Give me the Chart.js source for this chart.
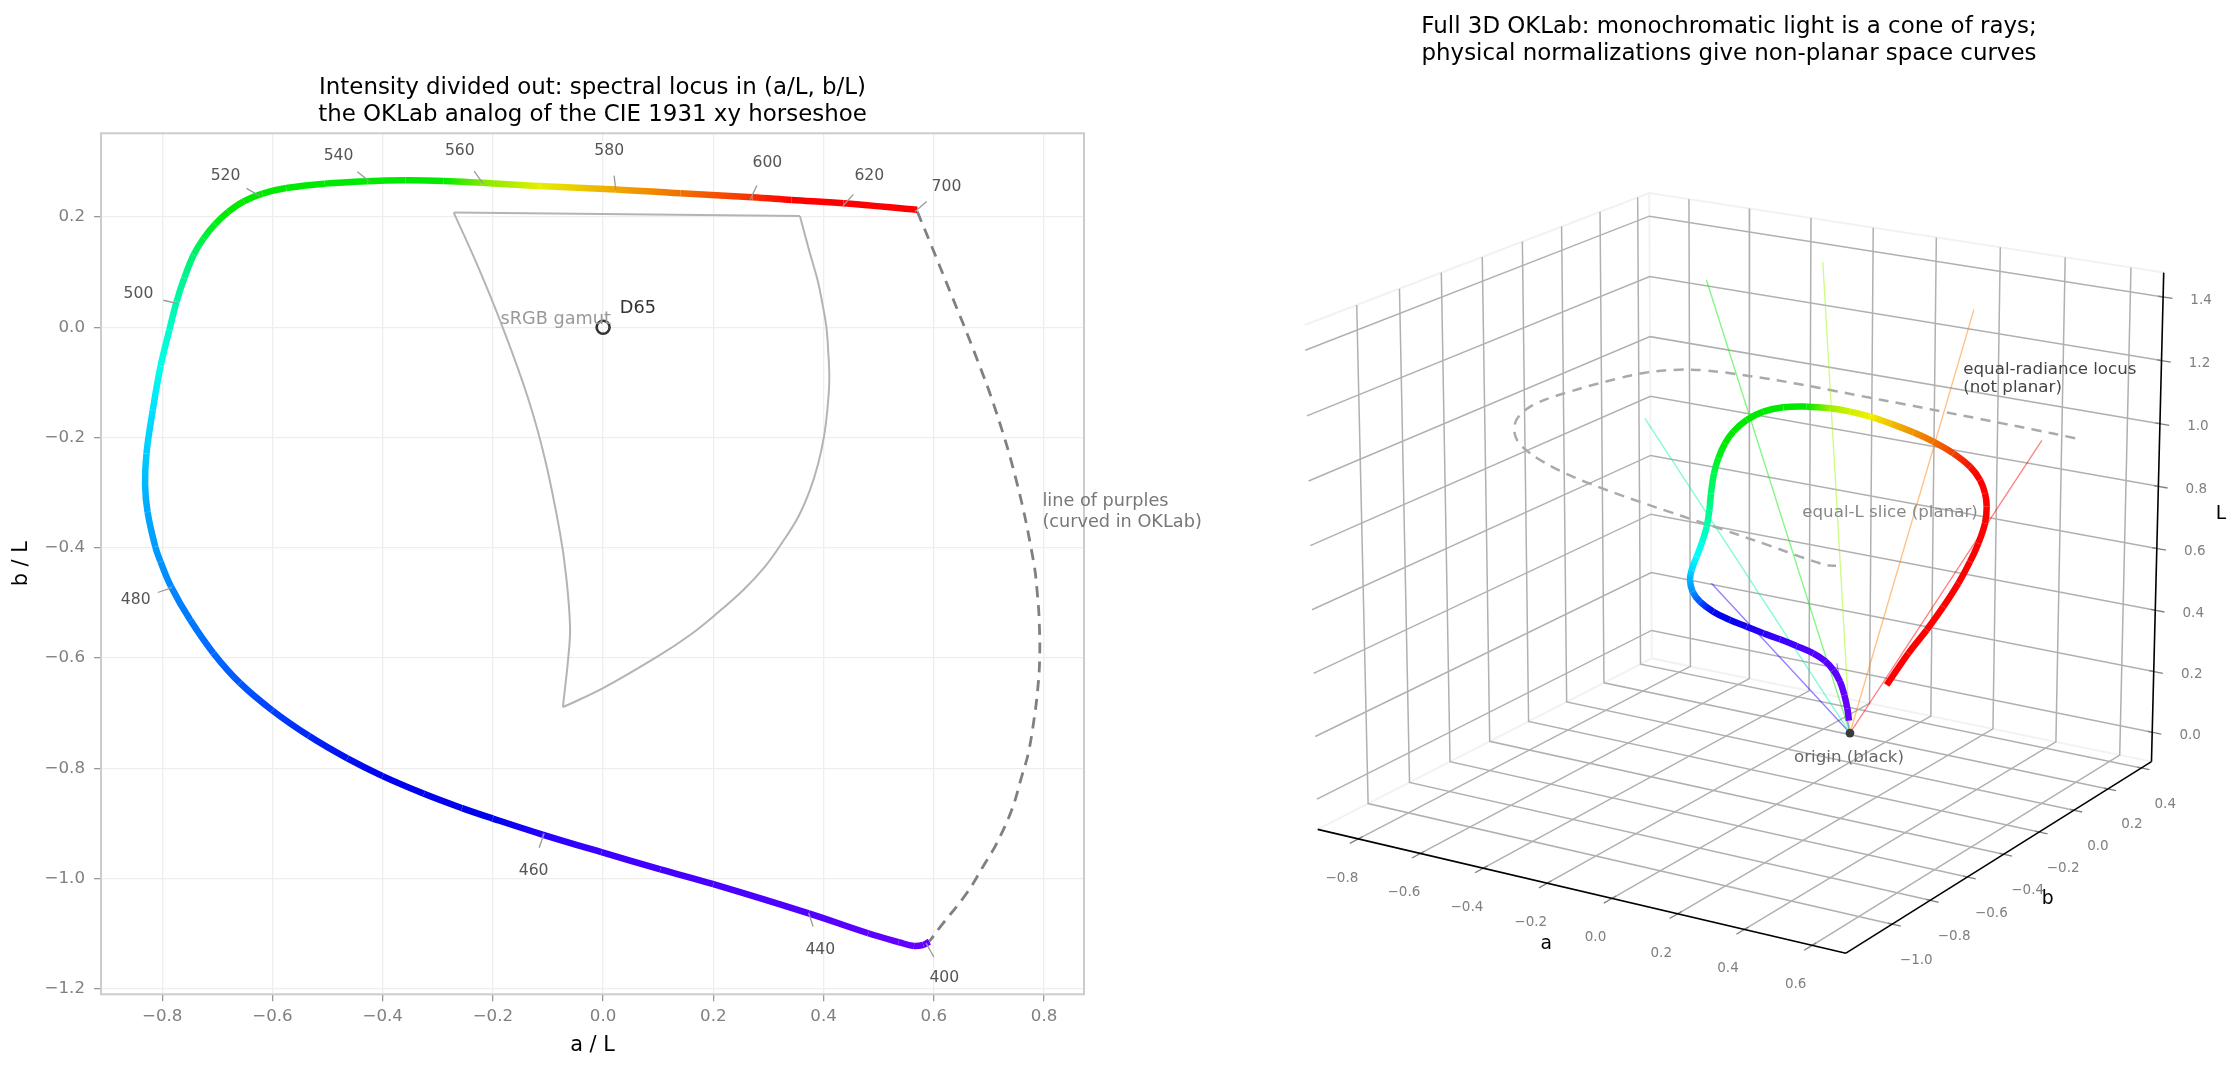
<!DOCTYPE html>
<html>
<head>
<meta charset="utf-8">
<title>OKLab spectral locus</title>
<script src="https://cdn.jsdelivr.net/npm/chart.js@4/dist/chart.umd.min.js"></script>
<style>
  html, body { margin: 0; background: #fff; overflow: hidden; }
  canvas { position: absolute; top: 0; }
  #flat { left: 0; }
  #cone { left: 1223px; }
</style>
</head>
<body>
<canvas id="flat" width="1222" height="1071"></canvas>
<canvas id="cone" width="1012" height="1071"></canvas>
<script>
// Spectral locus in chromaticity form, from 400 nm round to 700 nm
const locusA = [0.592,0.581,0.564,0.536,0.481,0.373,0.2,0.104,-0.003,-0.11,-0.2,-0.256,-0.325,-0.4,-0.464,-0.534,-0.6,-0.659,-0.707,-0.749,-0.784,-0.803,-0.8125,-0.8265,-0.831,-0.8285,-0.817,-0.803,-0.787,-0.774,-0.76,-0.743,-0.725,-0.704,-0.68,-0.652,-0.618,-0.575,-0.505,-0.428,-0.359,-0.289,-0.22,-0.116,0.023,0.14,0.271,0.342,0.436,0.57];
const locusB = [-1.114,-1.12,-1.122,-1.115,-1.099,-1.063,-1.01,-0.983,-0.952,-0.92,-0.891,-0.872,-0.846,-0.814,-0.782,-0.741,-0.695,-0.645,-0.591,-0.531,-0.47,-0.425,-0.398,-0.335,-0.286,-0.229,-0.15,-0.071,-0.005,0.046,0.089,0.131,0.161,0.187,0.2095,0.2285,0.2425,0.2525,0.2605,0.265,0.2665,0.2655,0.262,0.256,0.25,0.243,0.236,0.231,0.225,0.213];
const locusColors = ['#6400ff','#6400ff','#6400ff','#6200ff','#5c00ff','#5000ff','#4800ff','#4200ff','#3c00ff','#2400ff','#0000ee','#0000ee','#0000ee','#0000f0','#0010f0','#0028f5','#0040ff','#0058ff','#0068ff','#0078ff','#0088ff','#0094ff','#009cff','#00a8ff','#00b8ff','#00ccff','#00e0ff','#00ffe8','#00fccc','#00f8a8','#00f590','#00f270','#00f040','#00ee18','#00ea00','#00ea00','#00ea00','#00ea00','#00ea00','#00ea00','#00ea00','#00ea00','#80ea00','#e4ee00','#f0a800','#f07000','#f83000','#ff0000','#ff0000','#ff0000'];

// Line of purples
const purpleA = [0.57,0.594,0.633,0.672,0.712,0.751,0.7805,0.7878,0.7914,0.792,0.7884,0.7817,0.7714,0.7594,0.7413,0.7141,0.6929,0.6596,0.612,0.592];
const purpleB = [0.21,0.152,0.056,-0.041,-0.15,-0.283,-0.422,-0.4824,-0.5368,-0.6034,-0.6578,-0.7122,-0.7726,-0.815,-0.8754,-0.9358,-0.972,-1.0265,-1.087,-1.114];

// sRGB gamut outline and the indices of its three corners
const gamutA = [-0.271,0.357,0.375,0.389,0.398,0.405,0.4085,0.4104,0.4068,0.4008,0.3904,0.3754,0.3542,0.324,0.2937,0.2544,0.203,0.1577,0.099,-0.001,-0.073,-0.063,-0.06,-0.067,-0.078,-0.105,-0.137,-0.185,-0.227,-0.271];
const gamutB = [0.208,0.202,0.135,0.086,0.042,0.001,-0.045,-0.0956,-0.15,-0.198,-0.2467,-0.295,-0.3435,-0.3917,-0.434,-0.4764,-0.5218,-0.558,-0.597,-0.655,-0.689,-0.597,-0.543,-0.452,-0.374,-0.241,-0.126,0.007,0.11,0.208];
const gamutCorners = [0, 1, 20, 29];

// Wavelength callouts
const waveLabels = ['400','440','460','480','500','520','540','560','580','600','620','700'];
const waveTextA = [0.619,0.394,-0.126,-0.848,-0.843,-0.685,-0.48,-0.26,0.011,0.298,0.483,0.623];
const waveTextB = [-1.18,-1.13,-0.986,-0.495,0.06,0.274,0.31,0.32,0.32,0.298,0.274,0.254];
const leaderFromA = [0.6,0.381,-0.116,-0.808,-0.798,-0.647,-0.446,-0.234,0.02,0.279,0.454,0.587];
const leaderFromB = [-1.142,-1.087,-0.944,-0.481,0.049,0.252,0.282,0.283,0.275,0.257,0.241,0.228];
const leaderToA = [0.586,0.373,-0.107,-0.782,-0.772,-0.623,-0.423,-0.218,0.023,0.267,0.435,0.566];
const leaderToB = [-1.117,-1.062,-0.918,-0.472,0.043,0.238,0.264,0.261,0.248,0.232,0.22,0.21];

const flatTicksA = [-0.8,-0.6,-0.4,-0.2,0,0.2,0.4,0.6,0.8];
const flatTicksB = [0.2,0,-0.2,-0.4,-0.6,-0.8,-1,-1.2];

// Locus in full (a, b, L) space
const coneA = [0.0491,0.0952,0.1401,0.1728,0.1872,0.1835,0.1518,0.0997,0.0394,-0.0238,-0.0849,-0.1574,-0.2296,-0.2911,-0.3465,-0.3909,-0.4165,-0.433,-0.444,-0.4595,-0.4808,-0.4989,-0.5125,-0.5164,-0.515,-0.499,-0.465,-0.4185,-0.3625,-0.2865,-0.2115,-0.1423,-0.0774,-0.0108,0.0624,0.1292,0.2005,0.26,0.2926,0.3193,0.3272,0.3313,0.317,0.3025,0.2736,0.2391,0.1959,0.1491,0.0941];
const coneB = [-0.0919,-0.1823,-0.2777,-0.3587,-0.4201,-0.4583,-0.4657,-0.4645,-0.4498,-0.4306,-0.4156,-0.382,-0.3497,-0.3182,-0.2658,-0.207,-0.1562,-0.1024,-0.0576,-0.0052,0.0444,0.0832,0.122,0.1521,0.1861,0.2048,0.2206,0.2336,0.2486,0.2473,0.247,0.2378,0.2356,0.2298,0.2305,0.2236,0.2078,0.1945,0.1923,0.1725,0.1684,0.1526,0.1427,0.1233,0.1117,0.0911,0.0767,0.059,0.0371];
const coneL = [0.082,0.162,0.246,0.322,0.382,0.422,0.442,0.454,0.458,0.458,0.462,0.458,0.46,0.47,0.475,0.486,0.498,0.522,0.55,0.586,0.622,0.662,0.714,0.754,0.794,0.83,0.87,0.902,0.922,0.938,0.946,0.95,0.946,0.938,0.922,0.906,0.886,0.858,0.822,0.79,0.75,0.702,0.638,0.582,0.51,0.434,0.354,0.274,0.166];
const coneColors = ['#6600ff','#6600ff','#6400ff','#6000ff','#5800ff','#5400ff','#5000ff','#4400ff','#3800ff','#2c00fa','#1800f0','#0000ee','#0000f0','#0050ff','#0090ff','#00b0ff','#00d8ff','#00ffff','#00ffe0','#00ffb0','#00f890','#00f870','#00f850','#00f020','#00ea00','#00ea00','#00ea00','#00ea00','#00ea00','#00ea00','#a0ee00','#d0f000','#f0f000','#f0c000','#f09000','#f07000','#f04000','#f81000','#ff0000','#ff0000','#ff0000','#ff0000','#ff0000','#ff0000','#ff0000','#ff0000','#ff0000','#ff0000','#ff0000'];

// Rays from the origin, one per sampled wavelength
const rayA = [0.235,-0.082,-0.687,-0.661,-0.302,0.198,0.468];
const rayB = [-0.485,-0.603,0.038,0.328,0.36,0.319,0.215];
const rayL = [0.434,0.658,0.886,1.266,1.374,1.314,0.974];
const rayColors = ['rgba(96,0,255,0.5)','rgba(40,0,255,0.5)','rgba(0,245,170,0.5)','rgba(0,240,0,0.5)','rgba(150,250,0,0.5)','rgba(255,128,0,0.5)','rgba(255,0,0,0.5)'];

// Height of the planar slice through the cone
const sliceL = 1.0;

const coneTicksA = [-0.8,-0.6,-0.4,-0.2,0,0.2,0.4,0.6];
const coneTicksB = [-1,-0.8,-0.6,-0.4,-0.2,0,0.2,0.4];
const coneTicksL = [0,0.2,0.4,0.6,0.8,1,1.2,1.4];

// Axis limits and camera of the 3D view
const limA = [-0.9326, 0.6985], limB = [-1.2379, 0.4622], limL = [-0.097, 1.4763];
const camera = { elev: 17.972, azim: -58.026, boxA: 1.1419, boxB: 1.1411, boxL: 0.9704, scale: 537.86, cx: 1741.69, cy: 550.36, dist: 10 };

const FONT = 'DejaVu Sans';
const tickText = v => v.toFixed(1).replace('-', '\u2212');
Chart.defaults.font.family = FONT;

// Perspective projection from (a, b, L) to page pixels
function project(a, b, l) {
  const c = camera;
  const X = ((a - limA[0]) / (limA[1] - limA[0]) - 0.5) * c.boxA;
  const Y = ((b - limB[0]) / (limB[1] - limB[0]) - 0.5) * c.boxB;
  const Z = ((l - limL[0]) / (limL[1] - limL[0]) - 0.5) * c.boxL;
  const e = c.elev * Math.PI / 180, z = c.azim * Math.PI / 180;
  const w = [Math.cos(e) * Math.cos(z), Math.cos(e) * Math.sin(z), Math.sin(e)];
  const u = [-Math.sin(z), Math.cos(z), 0];
  const v = [-w[2] * u[1], w[2] * u[0], w[0] * u[1] - w[1] * u[0]];
  const f = c.dist / (c.dist - (w[0] * X + w[1] * Y + w[2] * Z));
  return {
    x: c.cx + c.scale * (u[0] * X + u[1] * Y) * f,
    y: c.cy - c.scale * (v[0] * X + v[1] * Y + v[2] * Z) * f
  };
}

// Draws free text anchored to scale values
const textMarks = {
  id: 'textMarks',
  afterDatasetsDraw(chart, args, opts) {
    const { ctx, scales } = chart;
    ctx.save();
    for (const t of opts.items || []) {
      ctx.font = `${t.size}px "${FONT}"`;
      ctx.fillStyle = t.color;
      ctx.textAlign = t.align || 'center';
      ctx.textBaseline = 'middle';
      ctx.fillText(t.text, scales.x.getPixelForValue(t.x), scales.y.getPixelForValue(t.y));
    }
    ctx.restore();
  }
};

// Frame round the plot area
const plotFrame = {
  id: 'plotFrame',
  beforeDatasetsDraw(chart, args, opts) {
    if (!opts.color) return;
    const { ctx, chartArea: a } = chart;
    ctx.save();
    ctx.strokeStyle = opts.color;
    ctx.lineWidth = opts.width;
    ctx.strokeRect(a.left, a.top, a.right - a.left, a.bottom - a.top);
    ctx.restore();
  }
};

const blendSegment = colors => ({
  borderColor(c) {
    const g = c.chart.ctx.createLinearGradient(c.p0.x, c.p0.y, c.p1.x, c.p1.y);
    g.addColorStop(0, colors[c.p0DataIndex]);
    g.addColorStop(1, colors[c.p1DataIndex]);
    return g;
  }
});

const zip = (xs, ys) => xs.map((x, i) => ({ x, y: ys[i] }));
const line = (data, color, width, extra = {}) => ({
  data, borderColor: color, borderWidth: width, showLine: true, pointRadius: 0, fill: false, tension: 0, ...extra
});

/* ---------- chromaticity plot ---------- */
const flatSets = [];
for (let i = 0; i < gamutCorners.length - 1; i++) {
  const s = gamutCorners[i], e = gamutCorners[i + 1] + 1;
  flatSets.push(line(zip(gamutA.slice(s, e), gamutB.slice(s, e)), '#b4b4b4', 2, { tension: 0.4 }));
}
flatSets.push(line(zip(purpleA, purpleB), '#808080', 2.8, { tension: 0.4, borderDash: [11, 7.8] }));
flatSets.push(line(zip(locusA, locusB), locusColors[0], 6.5, { tension: 0.4, borderJoinStyle: 'round', segment: blendSegment(locusColors) }));
waveLabels.forEach((_, i) => flatSets.push(line(
  [{ x: leaderFromA[i], y: leaderFromB[i] }, { x: leaderToA[i], y: leaderToB[i] }], '#999999', 1.3)));
flatSets.push({
  data: [{ x: 0, y: 0 }], showLine: false, pointRadius: 6.5, pointBorderWidth: 2.6,
  pointBorderColor: '#333333', pointBackgroundColor: 'rgba(0,0,0,0)'
});

const flatText = waveLabels.map((text, i) => ({ text, x: waveTextA[i], y: waveTextB[i], size: 15.6, color: '#555555' }));
flatText.push({ text: 'D65', x: 0.063, y: 0.034, size: 17.7, color: '#333333' });
flatText.push({ text: 'sRGB gamut', x: -0.086, y: 0.015, size: 17.7, color: '#999999' });
flatText.push({ text: 'line of purples', x: 0.797, y: -0.315, size: 17.7, color: '#777777', align: 'left' });
flatText.push({ text: '(curved in OKLab)', x: 0.797, y: -0.353, size: 17.7, color: '#777777', align: 'left' });

const flatAxis = (ticksList, title, min, max, fit, extraTitle, extraTicks) => ({
  type: 'linear', min, max,
  afterFit: fit,
  afterBuildTicks(scale) { scale.ticks = ticksList.map(value => ({ value })); },
  grid: { color: '#eeeeee', lineWidth: 1.3, tickLength: 7, tickColor: '#999999', tickWidth: 1.3 },
  border: { display: false },
  ticks: { color: '#808080', font: { size: 16.67 }, callback: tickText, maxRotation: 0, autoSkip: false, ...extraTicks },
  title: { display: true, text: title, color: '#000000', font: { size: 20.83 }, ...extraTitle }
});

new Chart(document.getElementById('flat'), {
  type: 'scatter',
  data: { datasets: flatSets.reverse() },
  plugins: [textMarks, plotFrame],
  options: {
    responsive: false, animation: false, events: [],
    layout: { autoPadding: false, padding: { right: 138 } },
    scales: {
      x: flatAxis(flatTicksA, 'a / L', -0.911, 0.8725, s => { s.height = 76.7; }, { padding: { top: 0, bottom: 13 } }, { padding: 5 }),
      y: flatAxis(flatTicksB, 'b / L', -1.2097, 0.3518, s => { s.width = 101; }, { padding: { top: 9, bottom: 0 } }, { padding: 9 })
    },
    plugins: {
      legend: { display: false },
      tooltip: { enabled: false },
      title: {
        display: true, fullSize: false, color: '#000000',
        text: ['Intensity divided out: spectral locus in (a/L, b/L)', 'the OKLab analog of the CIE 1931 xy horseshoe'],
        font: { size: 22.92, weight: 'normal', lineHeight: 1.18 },
        padding: { top: 74.5, bottom: 4.7 }
      },
      textMarks: { items: flatText },
      plotFrame: { color: '#cccccc', width: 2 }
    }
  }
});

/* ---------- 3D view ---------- */
const [a0, a1] = limA, [b0, b1] = limB, [l0, l1] = limL;
const GRID = '#b0b0b0', PANE = '#f2f2f2', TICK = '#808080';
const path3 = pts => pts.map(p => project(p[0], p[1], p[2]));
const coneSets = [];

// Faint pane edges
coneSets.push(line(path3([[a0, b0, l1], [a0, b1, l1], [a1, b1, l1]]), PANE, 2));
coneSets.push(line(path3([[a0, b0, l0], [a0, b1, l0], [a1, b1, l0]]), PANE, 2));
coneSets.push(line(path3([[a0, b1, l0], [a0, b1, l1]]), PANE, 2));

// Grid lines over both walls and the floor, with their tick marks
coneTicksA.forEach(t => {
  coneSets.push(line(path3([[t, b1, l1], [t, b1, l0], [t, b0, l0]]), GRID, 1.5));
  coneSets.push(line(path3([[t, b0 + 0.02, l0], [t, b0 - 0.04, l0]]), TICK, 1.3));
});
coneTicksB.forEach(t => {
  coneSets.push(line(path3([[a0, t, l1], [a0, t, l0], [a1, t, l0]]), GRID, 1.5));
  coneSets.push(line(path3([[a1 - 0.012, t, l0], [a1 + 0.025, t, l0]]), TICK, 1.3));
});
coneTicksL.forEach(t => {
  coneSets.push(line(path3([[a0, b0, t], [a0, b1, t], [a1, b1, t]]), GRID, 1.5));
  coneSets.push(line(path3([[a1 - 0.014, b1, t], [a1 + 0.028, b1, t]]), TICK, 1.3));
});

// Axis lines
coneSets.push(line(path3([[a0, b0, l0], [a1, b0, l0]]), '#000000', 1.6));
coneSets.push(line(path3([[a1, b0, l0], [a1, b1, l0]]), '#000000', 1.6));
coneSets.push(line(path3([[a1, b1, l0], [a1, b1, l1]]), '#000000', 1.6));

// Planar slice, rays, then the thick locus and the origin point
coneSets.push(line(locusA.map((a, i) => project(a * sliceL, locusB[i] * sliceL, sliceL)).reverse(),
  '#aaaaaa', 2.5, { tension: 0.4, borderDash: [10, 7.3] }));
rayA.forEach((a, i) => coneSets.push(line(path3([[0, 0, 0], [a, rayB[i], rayL[i]]]), rayColors[i], 1.3)));
coneSets.push(line(coneA.map((a, i) => project(a, coneB[i], coneL[i])), coneColors[0], 6.5,
  { tension: 0.4, borderJoinStyle: 'round', segment: blendSegment(coneColors) }));
coneSets.push({ data: [project(0, 0, 0)], showLine: false, pointRadius: 4.4, pointBorderWidth: 0, pointBackgroundColor: '#3a3a3a' });

const TICK3 = { size: 13.54, color: '#808080' };
const coneText = [];
coneTicksA.forEach(t => { const p = project(t, b0, l0); coneText.push({ text: tickText(t), x: p.x - 16.5, y: p.y + 39.5, ...TICK3 }); });
coneTicksB.forEach(t => { const p = project(a1, t, l0); coneText.push({ text: tickText(t), x: p.x + 24, y: p.y + 36, ...TICK3 }); });
coneTicksL.forEach(t => { const p = project(a1, b1, t); coneText.push({ text: tickText(t), x: p.x + 38, y: p.y + 3, ...TICK3 }); });
coneText.push({ text: 'a', x: 1546.3, y: 944.3, size: 18.75, color: '#000000' });
coneText.push({ text: 'b', x: 2047.7, y: 899.3, size: 18.75, color: '#000000' });
coneText.push({ text: 'L', x: 2221, y: 514.5, size: 18.75, color: '#000000' });
coneText.push({ text: 'equal-radiance locus', x: 1963.3, y: 370, size: 16.67, color: '#444444', align: 'left' });
coneText.push({ text: '(not planar)', x: 1963.3, y: 387.7, size: 16.67, color: '#444444', align: 'left' });
coneText.push({ text: 'equal-L slice (planar)', x: 1802.3, y: 512.7, size: 16.67, color: '#888888', align: 'left' });
coneText.push({ text: 'origin (black)', x: 1849, y: 757.7, size: 16.67, color: '#666666' });

new Chart(document.getElementById('cone'), {
  type: 'scatter',
  data: { datasets: coneSets.reverse() },
  plugins: [textMarks],
  options: {
    responsive: false, animation: false, events: [],
    layout: { autoPadding: false },
    scales: {
      x: { type: 'linear', display: false, min: 1223, max: 2235 },
      y: { type: 'linear', display: false, reverse: true, min: 80, max: 1071 }
    },
    plugins: {
      legend: { display: false },
      tooltip: { enabled: false },
      title: {
        display: true, color: '#000000',
        text: ['Full 3D OKLab: monochromatic light is a cone of rays;', 'physical normalizations give non-planar space curves'],
        font: { size: 22.92, weight: 'normal', lineHeight: 1.18 },
        padding: { top: 13.4, bottom: 12.5 }
      },
      textMarks: { items: coneText }
    }
  }
});
</script>
</body>
</html>
